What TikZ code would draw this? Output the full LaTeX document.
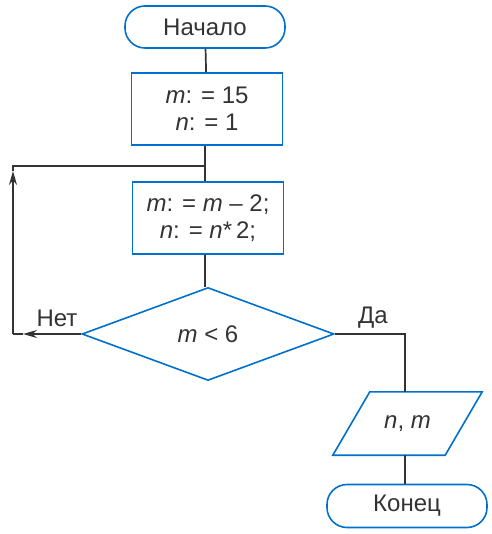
\documentclass[tikz,border=0pt]{standalone}
\usepackage{fontspec}
\setmainfont{Liberation Sans}
\usetikzlibrary{shapes.geometric,arrows.meta}
\begin{document}
\begin{tikzpicture}[x=1pt,y=-1pt,
  every node/.style={font=\fontsize{24}{27}\selectfont, text=black!80, align=center, inner sep=0pt},
  blk/.style={draw=blue!45!cyan!80!black, line width=1.6pt},
  term/.style={blk, rectangle, rounded corners=20pt, minimum width=160pt, minimum height=42pt},
  proc/.style={blk, rectangle, minimum width=151pt, minimum height=72pt},
  cond/.style={blk, diamond, minimum width=252pt, minimum height=93pt, aspect=2.7},
  iobox/.style={rectangle, minimum width=149pt, minimum height=63pt},
  conn/.style={draw=black!80, line width=1.7pt},
  tip/.style={-{Stealth[length=14pt,width=8pt]}}
]
\useasboundingbox (0,0) rectangle (491,534);
\node[term] (start) at (205,27) {Начало};
\node[proc] (b1) at (207,109) {\textit{m}: = 15\\\textit{n}: = 1};
\node[proc] (b2) at (208,218) {\textit{m}: = \textit{m} – 2;\\\textit{n}: = \textit{n}*\,2;};
\node[cond] (dia) at (208,334) {\textit{m} < 6};
\node[iobox] (out) at (407.5,423.5) {\textit{n}, \textit{m}};
\draw[blk] (out.south west) -- ([xshift=37pt]out.north west) -- (out.north east)
  -- ([xshift=-37pt]out.south east) -- cycle;
\node[term, minimum width=160pt, minimum height=43pt] (end) at (407,506) {Конец};
\node (no) at (57,318) {Нет};
\node (yes) at (373,318) {Да};
\coordinate (join) at (205,166);
\coordinate (arrL) at (23,334);
\coordinate (nw) at (13,334);
\coordinate (arrU) at (13,171);
\coordinate (nu) at (13,166);
\coordinate (ne) at (405,334);
\draw[conn] (start) -- (b1);
\draw[conn] (b1.south -| join) -- (b2.north -| join);
\draw[conn] (b2.south -| join) -- (dia.north -| join);
\draw[conn,tip] (dia.west) -- (arrL);
\draw[conn] (arrL) -- (nw);
\draw[conn,tip] (nw) -- (arrU);
\draw[conn] (arrU) -- (nu) -- (join);
\draw[conn] (dia.east) -- (ne) -- (out.north -| ne);
\draw[conn] (out.south -| ne) -- (end.north -| ne);
\end{tikzpicture}
\end{document}
